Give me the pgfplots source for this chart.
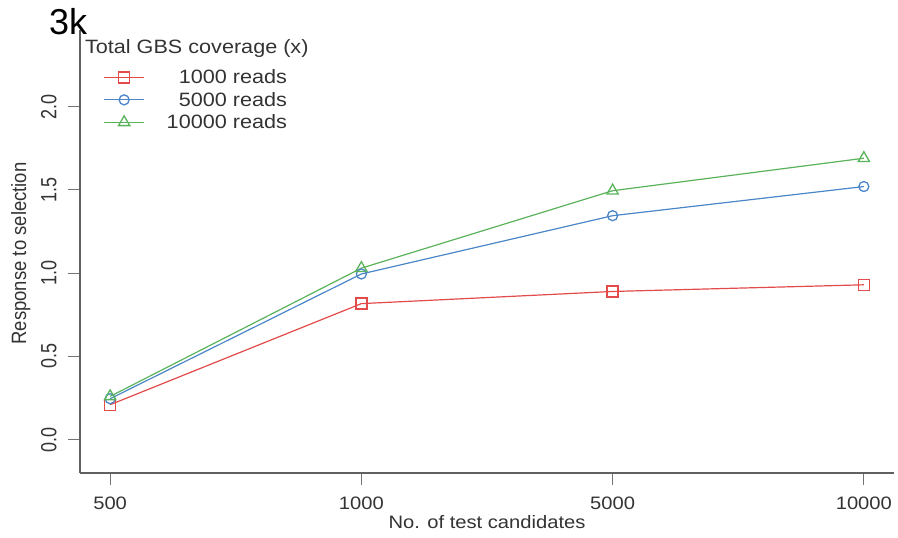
\documentclass[border=0pt]{standalone}
\usepackage{pgfplots}
\pgfplotsset{compat=1.18}
\usepackage{fontspec}
\setmainfont[FakeStretch=1.12]{Liberation Sans}
\newfontfamily\rotfont{Liberation Sans}
\definecolor{cred}{HTML}{E34A4A}
\definecolor{cblue}{HTML}{4A86C8}
\definecolor{cgreen}{HTML}{5AB35A}
\definecolor{txt}{HTML}{333333}
\begin{document}
\begin{tikzpicture}[x=1pt,y=1pt]
\useasboundingbox (0,0) rectangle (898,538);
\begin{axis}[
  at={(80pt,65pt)}, anchor=south west,
  scale only axis, width=814pt, height=443pt,
  xmin=-0.12, xmax=3.12, ymin=-0.2, ymax=2.46,
  axis x line*=bottom, axis y line*=left,
  axis line style={line width=1.6pt, color=black!62, -},
  xtick={0,1,2,3}, xticklabels={500,1000,5000,10000},
  ytick={0,0.5,1,1.5,2},
  yticklabel={\scalebox{1}[1.22]{\pgfmathprintnumber[fixed,fixed zerofill,precision=1]{\tick}}},
  yticklabel style={rotate=90, anchor=south},
  /pgf/number format/assume math mode=true,
  tick align=outside, major tick length=12pt,
  tick style={color=black!55, line width=0.8pt},
  xticklabel style={font=\fontsize{18}{20}\selectfont, text=txt, yshift=-8pt},
  yticklabel style={font=\rotfont\fontsize{18}{20}\selectfont, text=txt, yshift=8pt},
  xlabel={No. of test candidates},
  ylabel={\rotfont\scalebox{1}[1.12]{Response to selection}},
  xlabel style={font=\fontsize{18}{20}\selectfont, text=txt, at={(axis description cs:0.5,0)}, anchor=base, yshift=-56pt},
  ylabel style={font=\rotfont\fontsize{18.5}{20}\selectfont, text=txt, at={(axis description cs:0,0.5)}, anchor=base, yshift=54pt, xshift=-2pt},
  legend style={at={(rel axis cs:0.025,0.92)}, anchor=north west, draw=none, fill=none,
    font=\fontsize{19.3}{21}\selectfont, text=txt, row sep=3pt,
    cells={anchor=east}},
  legend cell align=right,
  legend image code/.code={\draw[mark repeat=2,mark phase=2] plot coordinates {(0pt,0pt) (20pt,0pt) (40pt,0pt)};},
  every axis plot/.append style={line width=1.2pt},
  clip=false,
]
\addplot[color=cred, mark=square, mark size=5.5pt, mark options={solid, line width=1.3pt}] coordinates {(0,0.21) (1,0.817) (2,0.89) (3,0.93)};
\addlegendentry{1000 reads}
\addplot[color=cblue, mark=o, mark size=5pt, mark options={solid, line width=1.3pt}] coordinates {(0,0.246) (1,0.995) (2,1.345) (3,1.52)};
\addlegendentry{5000 reads}
\addplot[color=cgreen, mark=triangle, mark size=6.5pt, mark options={solid, line width=1.3pt}] coordinates {(0,0.26) (1,1.03) (2,1.495) (3,1.69)};
\addlegendentry{\hspace*{20pt}10000 reads}
\node[anchor=base west, font=\fontsize{19.3}{21}\selectfont, text=txt, inner sep=0pt] at (rel axis cs:0.006,0.948) {Total GBS coverage (x)};
\end{axis}
\node[anchor=base west, font=\rotfont\fontsize{36}{40}\selectfont, inner sep=0pt] at (49,503) {3k};
\end{tikzpicture}
\end{document}
